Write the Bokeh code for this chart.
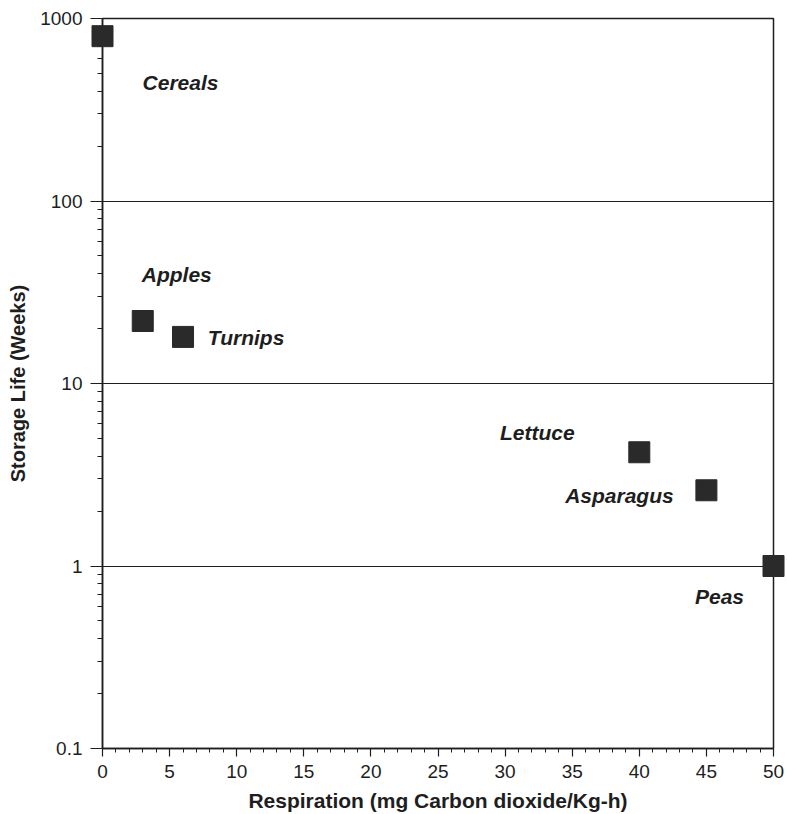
from bokeh.plotting import figure
from bokeh.models import ColumnDataSource, FixedTicker, NumeralTickFormatter, Range1d
from bokeh.embed import file_html
from bokeh.resources import INLINE
from bokeh.core.properties import value

# ---- data ----
crops = ["Cereals", "Apples", "Turnips", "Lettuce", "Asparagus", "Peas"]
respiration = [0, 3, 6, 40, 45, 50]            # mg CO2 / kg-h
storage_weeks = [800, 22, 18, 4.2, 2.6, 1.0]    # weeks

x_major_ticks = [0, 5, 10, 15, 20, 25, 30, 35, 40, 45, 50]
y_major_ticks = [0.1, 1, 10, 100, 1000]

# label placement (screen-pixel offsets from each point, layout only)
label_dx = [78, 34, 63, -102, -87, -54]
label_dy = [46, -47, 1, -20, 5, 30]

x_minor_ticks = [v for v in range(0, 51)]
y_minor_ticks = [m * 10.0 ** e for e in range(-1, 3) for m in range(2, 10)]

FONT = "Liberation Sans"
INK = "#1e1e1e"

p = figure(width=787, height=814, y_axis_type="log",
           x_range=Range1d(0, 50), y_range=Range1d(0.1, 1000),
           output_backend="svg", toolbar_location=None,
           min_border_left=102, min_border_right=14,
           min_border_top=18, min_border_bottom=66)
p.background_fill_color = "white"
p.border_fill_color = "white"
p.outline_line_color = INK
p.outline_line_width = 1.5
p.outline_line_alpha = 1.0

xt = FixedTicker(ticks=x_major_ticks, minor_ticks=x_minor_ticks)
yt = FixedTicker(ticks=y_major_ticks, minor_ticks=y_minor_ticks)
p.xaxis.ticker = xt
p.yaxis.ticker = yt
p.yaxis.formatter = NumeralTickFormatter(format="0.[0]")
p.xaxis.formatter = NumeralTickFormatter(format="0")

for ax in (p.xaxis[0], p.yaxis[0]):
    ax.axis_line_color = INK
    ax.axis_line_width = 1.5
    ax.major_tick_line_color = INK
    ax.major_tick_line_width = 1.2
    ax.minor_tick_line_color = INK
    ax.minor_tick_line_width = 1
    ax.major_tick_in = 0
    ax.minor_tick_in = 0
    ax.major_label_text_font = FONT
    ax.major_label_text_font_size = "19px"
    ax.major_label_text_color = INK
    ax.axis_label_text_font = FONT
    ax.axis_label_text_font_style = "bold"
    ax.axis_label_text_color = INK

p.xaxis.axis_label_text_font_size = "21px"
p.yaxis.axis_label_text_font_size = "20px"
p.xaxis.major_tick_out = 8
p.xaxis.minor_tick_out = 4
p.yaxis.major_tick_out = 12
p.yaxis.minor_tick_out = 5
p.xaxis.major_label_standoff = 8
p.yaxis.major_label_standoff = 8
p.xaxis.axis_label_standoff = 8
p.yaxis.axis_label_standoff = 8
p.xaxis.axis_label = "Respiration (mg Carbon dioxide/Kg-h)"
p.yaxis.axis_label = "Storage Life (Weeks)"

p.xgrid.visible = False
p.ygrid.ticker = yt
p.ygrid.grid_line_color = INK
p.ygrid.grid_line_width = 1.2
p.ygrid.grid_line_alpha = 1.0
p.ygrid.minor_grid_line_color = None

src = ColumnDataSource(dict(x=respiration, y=storage_weeks, name=crops,
                            dx=label_dx, dy=label_dy))

p.scatter("x", "y", source=src, marker="square", size=21,
          fill_color="#2a2a2a", line_color="#2a2a2a", level="overlay")

p.text("x", "y", text="name", source=src, x_offset="dx", y_offset="dy",
       text_font=value(FONT), text_font_size="21px",
       text_font_style="bold italic", text_color=INK,
       text_align="center", text_baseline="middle")

html = file_html(p, INLINE)
open("out.html", "w").write(html)
